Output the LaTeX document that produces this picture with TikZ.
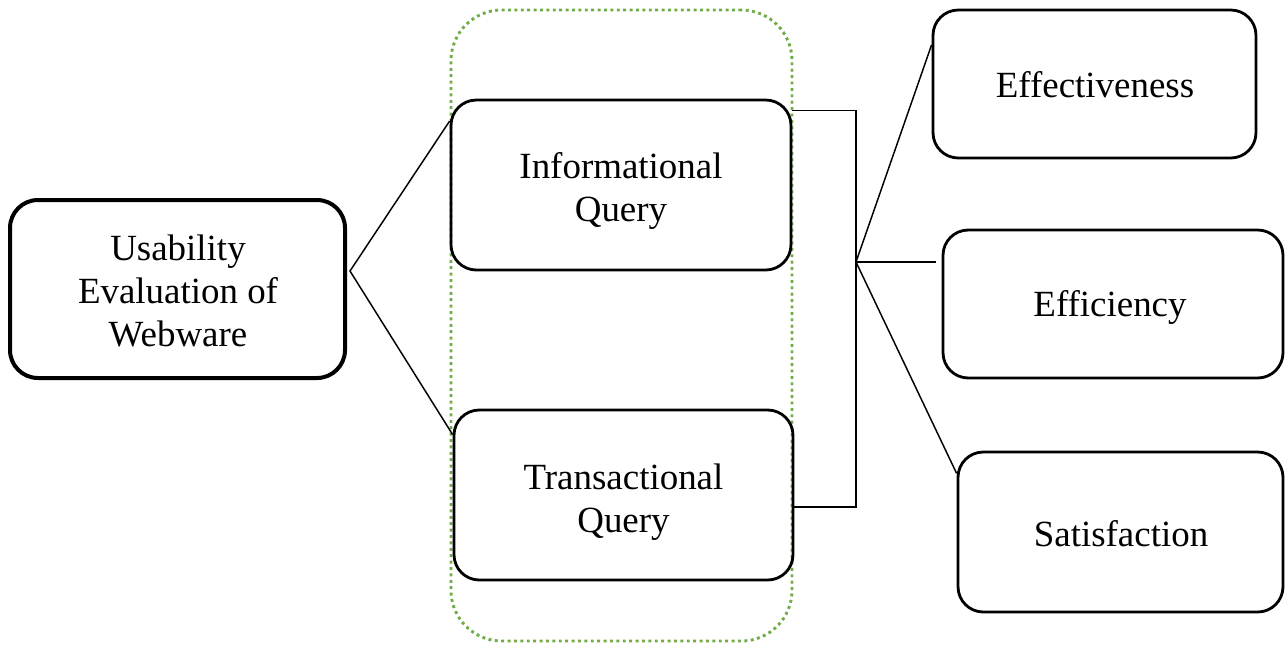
\documentclass[tikz,border=0pt]{standalone}
\usepackage{fontspec}
\setmainfont{Liberation Serif}
\usetikzlibrary{calc}
\definecolor{grn}{RGB}{112,173,71}
\tikzset{
  box/.style={draw=black, line width=2.1pt, rounded corners=19pt, inner sep=0pt},
  mainbox/.style={box, line width=3pt, rounded corners=21pt},
  txt/.style={align=center, inner sep=0pt, font=\fontsize{27.7}{32.5}\selectfont},
  conn/.style={draw=black, line width=1.1pt},
  group/.style={draw=grn, line width=2.2pt, dash pattern=on 2.2pt off 2.6pt, rounded corners=38pt, inner sep=0pt}
}
\begin{document}
\begin{tikzpicture}[x=0.75pt,y=-0.75pt]
\useasboundingbox (0,0) rectangle (1285,644);
\node[group, minimum width=341*0.75pt, minimum height=631*0.75pt] (grp) at (621.5,325.5) {};
\node[mainbox, minimum width=335*0.75pt, minimum height=178*0.75pt] (use) at (177.5,289) {};
\node[txt] (uset) at (178,291) {Usability\\Evaluation of\\Webware};
\node[box, minimum width=340*0.75pt, minimum height=170*0.75pt] (info) at (621,185) {};
\node[txt] (infot) at (621,191) {Informational\\Query};
\node[box, minimum width=339*0.75pt, minimum height=170*0.75pt] (trans) at (623.5,495) {};
\node[txt] (transt) at (623.5,502) {Transactional\\Query};
\node[box, minimum width=323*0.75pt, minimum height=148*0.75pt] (effe) at (1094.5,84) {};
\node[txt] (effet) at (1095,85) {Effectiveness};
\node[box, minimum width=340*0.75pt, minimum height=148*0.75pt] (effi) at (1113,304) {};
\node[txt] (effit) at (1110,307) {Efficiency};
\node[box, minimum width=325*0.75pt, minimum height=160*0.75pt] (sat) at (1120.5,532) {};
\node[txt] (satt) at (1121,534) {Satisfaction};
\coordinate (apex) at (350,271);
\coordinate (junc) at (856,262);
\draw[conn] ($(info.north west)!0.13!(info.south west)$) -- (apex) -- ($(trans.north west)!0.15!(trans.south west)$);
\draw[conn] ($(info.north east)!0.07!(info.south east)$) -| (junc) |- ($(trans.north east)!0.57!(trans.south east)$);
\draw[conn] (junc) -- ($(effe.north west)!0.24!(effe.south west)$);
\draw[conn, shorten >=4.5pt] (junc) -- (effi.west |- junc);
\draw[conn] (junc) -- ($(sat.north west)!0.14!(sat.south west)$);
\end{tikzpicture}
\end{document}
